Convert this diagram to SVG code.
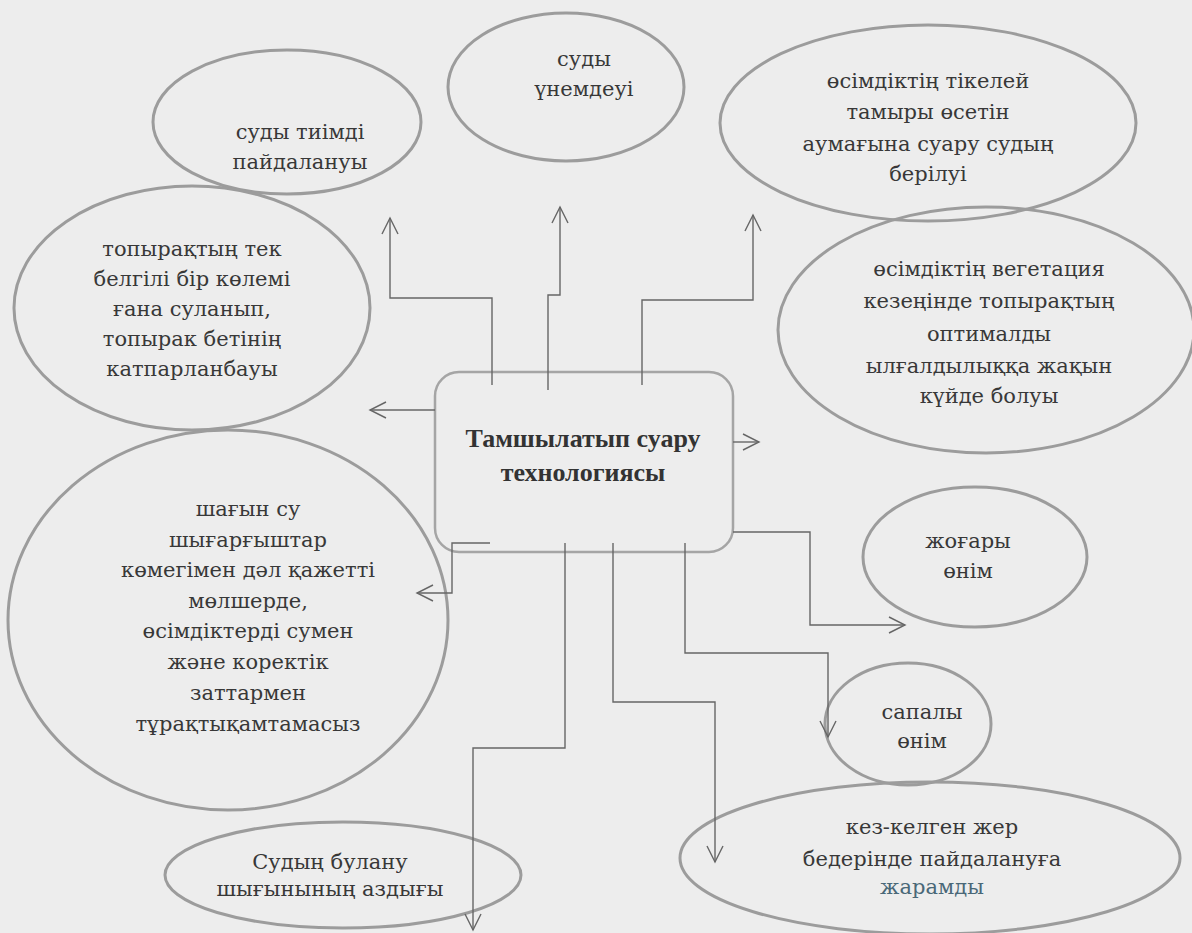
<svg xmlns="http://www.w3.org/2000/svg" width="1192" height="933" viewBox="0 0 1192 933">
<defs>
<marker id="arr" viewBox="0 0 20 20" refX="18" refY="10" markerWidth="20" markerHeight="20" markerUnits="userSpaceOnUse" orient="auto">
<path d="M2,2 L18,10 L2,18" fill="none" stroke="#666" stroke-width="1.4"/>
</marker>
<style>
.bg{fill:#ededed}
.el{fill:none;stroke:#9c9c9c;stroke-width:3}
.box{fill:none;stroke:#a5a5a5;stroke-width:2.5}
.t{font-family:"DejaVu Serif","Liberation Serif",serif;font-size:21px;fill:#383838;text-anchor:middle}
.tb{font-family:"Liberation Serif","Times New Roman",serif;font-size:26px;font-weight:bold;fill:#333;text-anchor:middle}
.c{fill:none;stroke:#666;stroke-width:1.4}
</style>
</defs>
<rect class="bg" x="0" y="0" width="1192" height="933"/>

<g id="center">
<rect class="box" x="435" y="372" width="298" height="180" rx="24"/>
<text class="tb" x="583" y="447">Тамшылатып суару</text>
<text class="tb" x="583" y="481">технологиясы</text>
</g>

<g id="n-unemdeu">
<ellipse class="el" cx="566" cy="87" rx="118" ry="74"/>
<text class="t" x="584" y="66">суды</text>
<text class="t" x="584" y="96">үнемдеуі</text>
</g>

<g id="n-tiimdi">
<ellipse class="el" cx="287" cy="122" rx="134" ry="72"/>
<text class="t" x="300" y="139">суды тиімді</text>
<text class="t" x="300" y="169">пайдалануы</text>
</g>

<g id="n-tikelei">
<ellipse class="el" cx="928" cy="123" rx="208" ry="98"/>
<text class="t" x="928" y="88">өсімдіктің тікелей</text>
<text class="t" x="928" y="119">тамыры өсетін</text>
<text class="t" x="928" y="151">аумағына суару судың</text>
<text class="t" x="928" y="181">берілуі</text>
</g>

<g id="n-topyrak">
<ellipse class="el" cx="192" cy="308" rx="178" ry="122"/>
<text class="t" x="192" y="256">топырақтың тек</text>
<text class="t" x="192" y="286">белгілі бір көлемі</text>
<text class="t" x="192" y="316">ғана суланып,</text>
<text class="t" x="192" y="346">топырак бетінің</text>
<text class="t" x="192" y="376">катпарланбауы</text>
</g>

<g id="n-vegetacia">
<ellipse class="el" cx="986" cy="330" rx="208" ry="123"/>
<text class="t" x="989" y="276">өсімдіктің вегетация</text>
<text class="t" x="989" y="308">кезеңінде топырақтың</text>
<text class="t" x="989" y="341">оптималды</text>
<text class="t" x="989" y="373">ылғалдылыққа жақын</text>
<text class="t" x="989" y="403">күйде болуы</text>
</g>

<g id="n-shagyn">
<ellipse class="el" cx="228" cy="620" rx="220" ry="190"/>
<text class="t" x="248" y="516">шағын су</text>
<text class="t" x="248" y="547">шығарғыштар</text>
<text class="t" x="248" y="577">көмегімен дәл қажетті</text>
<text class="t" x="248" y="608">мөлшерде,</text>
<text class="t" x="248" y="638">өсімдіктерді сумен</text>
<text class="t" x="248" y="669">және коректік</text>
<text class="t" x="248" y="700">заттармен</text>
<text class="t" x="248" y="731">тұрақтықамтамасыз</text>
</g>

<g id="n-zhogary">
<ellipse class="el" cx="975" cy="557" rx="112" ry="70"/>
<text class="t" x="968" y="548">жоғары</text>
<text class="t" x="968" y="578">өнім</text>
</g>

<g id="n-sapaly">
<ellipse class="el" cx="908" cy="724" rx="83" ry="61"/>
<text class="t" x="922" y="719">сапалы</text>
<text class="t" x="922" y="748">өнім</text>
</g>

<g id="n-kez">
<ellipse class="el" cx="930" cy="858" rx="250" ry="76"/>
<text class="t" x="932" y="834">кез-келген жер</text>
<text class="t" x="932" y="866">бедерінде пайдалануға</text>
<text class="t" x="932" y="894" style="fill:#4a6878">жарамды</text>
</g>

<g id="n-bulanu">
<ellipse class="el" cx="343" cy="875" rx="178" ry="53"/>
<text class="t" x="330" y="869">Судың булану</text>
<text class="t" x="330" y="896">шығынының аздығы</text>
</g>

<g id="connectors">
<polyline class="c" points="492,385 492,298 390,298 390,218" marker-end="url(#arr)"/>
<polyline class="c" points="548,390 548,295 560,295 560,207" marker-end="url(#arr)"/>
<polyline class="c" points="642,385 642,300 753,300 753,215" marker-end="url(#arr)"/>
<polyline class="c" points="435,410 370,410" marker-end="url(#arr)"/>
<polyline class="c" points="490,543 452,543 452,593 417,593" marker-end="url(#arr)"/>
<polyline class="c" points="733,442 759,442" marker-end="url(#arr)"/>
<polyline class="c" points="733,532 810,532 810,625 905,625" marker-end="url(#arr)"/>
<polyline class="c" points="565,543 565,748 473,748 473,930" marker-end="url(#arr)"/>
<polyline class="c" points="613,543 613,702 715,702 715,862" marker-end="url(#arr)"/>
<polyline class="c" points="685,543 685,653 828,653 828,737" marker-end="url(#arr)"/>
</g>
</svg>
